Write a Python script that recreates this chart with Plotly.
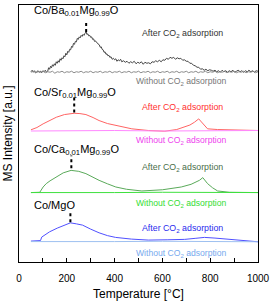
import plotly.graph_objects as go

# ---- data (temperature [°C], relative MS intensity [a.u., stacked offsets]) ----
ba_after = [(50,191),(55,192.5),(60,190.5),(65,192),(70,190),(75,191.5),(80,192),(85,190.5),(90,191.5),
            (95,190),(100,192),(105,191),(110,192.5),(115,190.5),(120,191.5),
            (124,195),(128,193.5),(132,196.5),(136,195),(140,198),(144,196.5),(148,199),(152,197.5),
            (156,201),(160,199.5),(164,202),(168,200.5),(172,204),(176,202.5),(180,205),(184,204),
            (188,207),(192,206),(196,209.5),(200,208),(204,211.5),(208,210.5),(212,213.5),(216,213),
            (220,216.5),(224,215.5),(228,219.5),(232,218.5),(236,221.5),(240,221),(244,224.5),(248,223.5),
            (252,226),(256,225),(260,227.5),(264,226.5),(268,228.5),(272,227.5),(276,229.5),(281,231),
            (284,228.5),(288,229),(292,227),(296,227.5),(300,225.5),(304,226),(308,223.5),(312,224),
            (316,221.5),(320,222),(324,220.5),(328,220),(332,218.5),(336,218),(340,215.5),(344,216),
            (348,213.5),(352,213),(356,210.5),(360,211),(364,208.5),(368,209),(372,207),(376,207.5),
            (380,205.5),(385,206),(390,203.5),(395,204.5),(400,203),(405,204),(410,201.5),(415,203),
            (420,202),(425,203.5),(430,201),(437,202),(445,200.5),(452,201.5),(460,199.5),(467,201),
            (475,200),(482,201.5),(490,199),(497,200.5),(505,199.5),(512,201),(520,198.5),(527,200.5),
            (535,199.5),(542,200),(550,199),(557,201),(565,200.5),(572,202),(580,201),(587,202.5),
            (595,201),(602,203),(610,202.5),(617,204.5),(625,203.5),(632,205.5),(640,204.5),(647,205.5),
            (655,203.5),(662,205),(670,204),(677,204.5),(685,202.5),(692,203),(700,201.5),(707,201.5),
            (715,199.5),(722,199.5),(730,197.5),(737,197),(745,195.5),(752,195.5),(760,193.5),(767,194),
            (775,192.5),(782,193.5),(790,192),(797,193),(805,192.5),(812,191.5),(820,192.5),(827,191),
            (835,192),(842,190.5),(850,192.5),(857,191),(865,192),(872,190.5),(880,192),(887,191),
            (895,192.5),(902,190.5),(910,191.5),(917,192.5),(925,191),(932,192),(940,190.5),(947,192),
            (955,191),(962,192.5),(970,191),(977,192),(985,190.5),(992,192),(1000,191.5)]
ba_without = [(50,190.5),(60,191.5),(70,190),(80,191),(90,190.5),(100,191.5),(110,190),(120,191),
              (130,190.5),(140,191.5),(150,189.5),(160,191),(170,190.5),(180,191.5),(190,190),(200,191),
              (210,190.5),(220,191.5),(230,190),(240,191),(250,190.5),(260,191.5),(270,190),(280,191),
              (290,190.5),(300,191.5),(310,190),(320,191),(330,190.5),(340,191.5),(350,190),(360,191),
              (370,190.5),(380,191.5),(390,190),(400,191),(410,190.5),(420,191.5),(430,190),(440,191),
              (450,190.5),(460,191.5),(470,190),(480,191),(490,190.5),(500,191.5),(510,190),(520,191),
              (530,190.5),(540,191.5),(550,190),(560,191),(570,190.5),(580,191.5),(590,190),(600,191),
              (610,190.5),(620,191.5),(630,190),(640,191),(650,190.5),(660,191.5),(670,190),(680,191),
              (690,190.5),(700,191.5),(710,190),(720,191),(730,190.5),(740,191.5),(750,190),(760,191),
              (770,190.5),(780,191.5),(790,190),(800,191),(810,190.5),(820,191.5),(830,190),(840,191),
              (850,190.5),(860,191.5),(870,190),(880,191),(890,190.5),(900,191.5),(910,190),(920,191),
              (930,190.5),(940,191.5),(950,190),(960,191),(970,190.5),(980,191.5),(990,190),(1000,191)]

sr_after = [(50,132.7),(75,135),(101,138.7),(130,142),(156,145.3),(190,148),(231,149.3),(255,149),
            (280,148),(310,145),(335,142),(370,139),(404,137),(440,135),(472,133.7),(541,132),
            (610,131.3),(660,133),(693,135.3),(715,137.5),(734,140.3),(752,143.7),(760,141.5),
            (769,138.7),(789,133.7),(830,133),(886,132.7),(940,132.3),(1000,132)]
sr_without = [(50,131.5),(200,132),(400,132),(600,131.5),(800,132),(1000,132)]

ca_after = [(50,69.7),(87,70),(101,75.3),(114,78.7),(130,81.5),(156,85.3),(185,89.5),(218,92),
            (250,91),(280,88.7),(310,85),(335,82),(370,78.5),(405,75.3),(450,73),(514,71.3),
            (600,72.5),(650,74),(679,75.3),(720,78),(755,82),(769,84.7),(780,81),(789,78.7),
            (810,74.5),(831,71.3),(880,70),(940,69.7),(1000,69.7)]
ca_without = [(50,69.7),(200,70),(400,69.7),(600,70),(800,69.7),(1000,69.7)]

mgo_after = [(50,21),(90,21.5),(95,25),(110,27.5),(128,30.3),(160,34),(190,37),(215,39.3),
             (240,38.3),(266,37),(300,33),(335,29.3),(370,26.5),(404,24.7),(470,23),(541,22),
             (620,22.3),(693,22.7),(740,23.8),(776,24.7),(820,24),(886,22.7),(950,21.5),(1000,20.3)]
mgo_without = [(50,20.5),(200,20.8),(400,20.5),(600,20.8),(800,20.5),(1000,20.3)]

series = [
    (ba_after, "#444444"), (ba_without, "#8c8c8c"),
    (sr_after, "#ff6464"), (sr_without, "#ff88ff"),
    (ca_after, "#5aaa5a"), (ca_without, "#3ee03e"),
    (mgo_after, "#5050ff"), (mgo_without, "#9ec0f0"),
]

sample_labels = ["Co/Ba<sub>0.01</sub>Mg<sub>0.99</sub>O", "Co/Sr<sub>0.01</sub>Mg<sub>0.99</sub>O",
                 "Co/Ca<sub>0.01</sub>Mg<sub>0.99</sub>O", "Co/MgO"]
sample_label_y = [252, 170, 112, 57]
after_text_y = [229, 155, 95, 34]
without_text_y = [181, 122, 59, 9]
after_text_colors = ["#333333", "#ff3030", "#4a6e4a", "#2a2aee"]
without_text_colors = ["#777777", "#ee44ee", "#33dd33", "#77aaee"]
peak_T = [281, 231, 219, 215]
peak_marker_y = [(231, 242), (150, 165), (94, 107), (40, 52)]

FONT = "Arial, Liberation Sans, sans-serif"

fig = go.Figure()
for pts, col in series:
    fig.add_trace(go.Scatter(x=[p[0] for p in pts], y=[p[1] for p in pts], mode="lines",
                             line=dict(color=col, width=1), showlegend=False, hoverinfo="skip"))

ann = []
for i in range(4):
    ann.append(dict(x=54, y=sample_label_y[i], text=sample_labels[i], showarrow=False,
                    xanchor="left", yanchor="middle", font=dict(size=11, color="black", family=FONT)))
    ann.append(dict(x=508, y=after_text_y[i], text="After CO<sub>2</sub> adsorption", showarrow=False,
                    xanchor="left", yanchor="middle", font=dict(size=8.8, color=after_text_colors[i], family=FONT)))
    ann.append(dict(x=483, y=without_text_y[i], text="Without CO<sub>2</sub> adsorption", showarrow=False,
                    xanchor="left", yanchor="middle", font=dict(size=8.6, color=without_text_colors[i], family=FONT)))
    fig.add_shape(type="line", x0=peak_T[i], x1=peak_T[i], y0=peak_marker_y[i][0], y1=peak_marker_y[i][1],
                  line=dict(color="black", width=2, dash="dot"))

tick_vals = list(range(0, 1001, 100))
tick_text = [str(v) if v % 200 == 0 else "" for v in tick_vals]

fig.update_layout(
    width=274, height=303,
    margin=dict(l=19, r=13, t=4, b=41),
    paper_bgcolor="white", plot_bgcolor="white",
    annotations=ann,
    font=dict(family=FONT, color="black"),
    xaxis=dict(range=[0, 1000], tickvals=tick_vals, ticktext=tick_text, ticks="inside", ticklen=4,
               tickcolor="black", showline=True, linecolor="black", linewidth=1, mirror=True,
               showgrid=False, zeroline=False, tickfont=dict(size=10, family=FONT),
               ticklabelstandoff=7,
               title=dict(text="Temperature [°C]", font=dict(size=12, family=FONT), standoff=6)),
    yaxis=dict(range=[0, 258], showticklabels=False, ticks="", showline=True, linecolor="black",
               linewidth=1, mirror=True, showgrid=False, zeroline=False,
               title=dict(text="MS Intensity [a.u.]", font=dict(size=12, family=FONT), standoff=2)),
)

fig.write_html("out.html")
